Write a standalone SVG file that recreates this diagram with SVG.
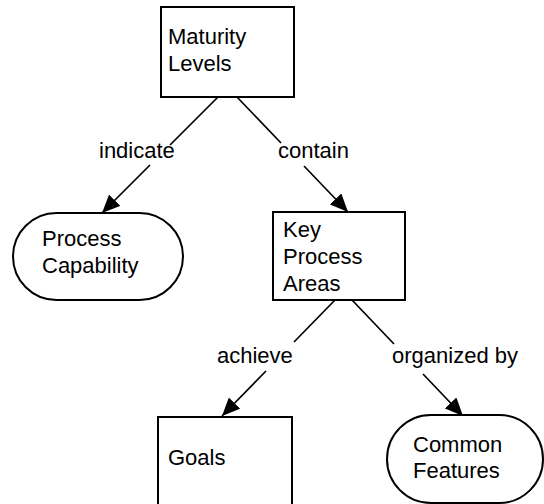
<svg xmlns="http://www.w3.org/2000/svg" width="544" height="504" viewBox="0 0 544 504">
<defs>
<style>
.box{fill:#fff;stroke:#000;stroke-width:2}
.t{font-family:"Liberation Sans",Arial,sans-serif;font-size:22px;fill:#000}
.c{stroke:#000;stroke-width:1.7;fill:none}
</style>
<marker id="ah" viewBox="0 0 18 16" refX="18" refY="8" markerWidth="18" markerHeight="16" orient="auto" markerUnits="userSpaceOnUse">
<path d="M0,0 L18,8 L0,16 Z" fill="#000"/>
</marker>
</defs>
<rect width="544" height="504" fill="#fff"/>
<g id="connectors">
<line class="c" x1="218" y1="97" x2="170" y2="145"/>
<line class="c" x1="150" y1="165" x2="102" y2="213" marker-end="url(#ah)"/>
<line class="c" x1="237" y1="97" x2="281" y2="143"/>
<line class="c" x1="304" y1="166" x2="348" y2="212" marker-end="url(#ah)"/>
<line class="c" x1="335" y1="300" x2="294" y2="342"/>
<line class="c" x1="266" y1="371" x2="222" y2="416" marker-end="url(#ah)"/>
<line class="c" x1="352" y1="300" x2="394" y2="344"/>
<line class="c" x1="423" y1="374" x2="463" y2="416" marker-end="url(#ah)"/>
<text class="t" x="99" y="158">indicate</text>
<text class="t" x="278" y="158">contain</text>
<text class="t" x="217" y="363">achieve</text>
<text class="t" x="392" y="363">organized by</text>
</g>
<g id="maturity-levels">
<rect class="box" x="161" y="7" width="133" height="90"/>
<text class="t" x="168" y="44">Maturity</text>
<text class="t" x="168" y="71">Levels</text>
</g>
<g id="process-capability">
<rect class="box" x="13" y="213" width="170" height="87" rx="43.5"/>
<text class="t" x="42" y="246">Process</text>
<text class="t" x="42" y="273">Capability</text>
</g>
<g id="key-process-areas">
<rect class="box" x="273" y="212" width="132" height="88"/>
<text class="t" x="283" y="237">Key</text>
<text class="t" x="283" y="264">Process</text>
<text class="t" x="283" y="291">Areas</text>
</g>
<g id="goals">
<rect class="box" x="158" y="417" width="134" height="100"/>
<text class="t" x="168" y="465">Goals</text>
</g>
<g id="common-features">
<rect class="box" x="387" y="415" width="156" height="88" rx="44"/>
<text class="t" x="413" y="452">Common</text>
<text class="t" x="413" y="478">Features</text>
</g>
</svg>
